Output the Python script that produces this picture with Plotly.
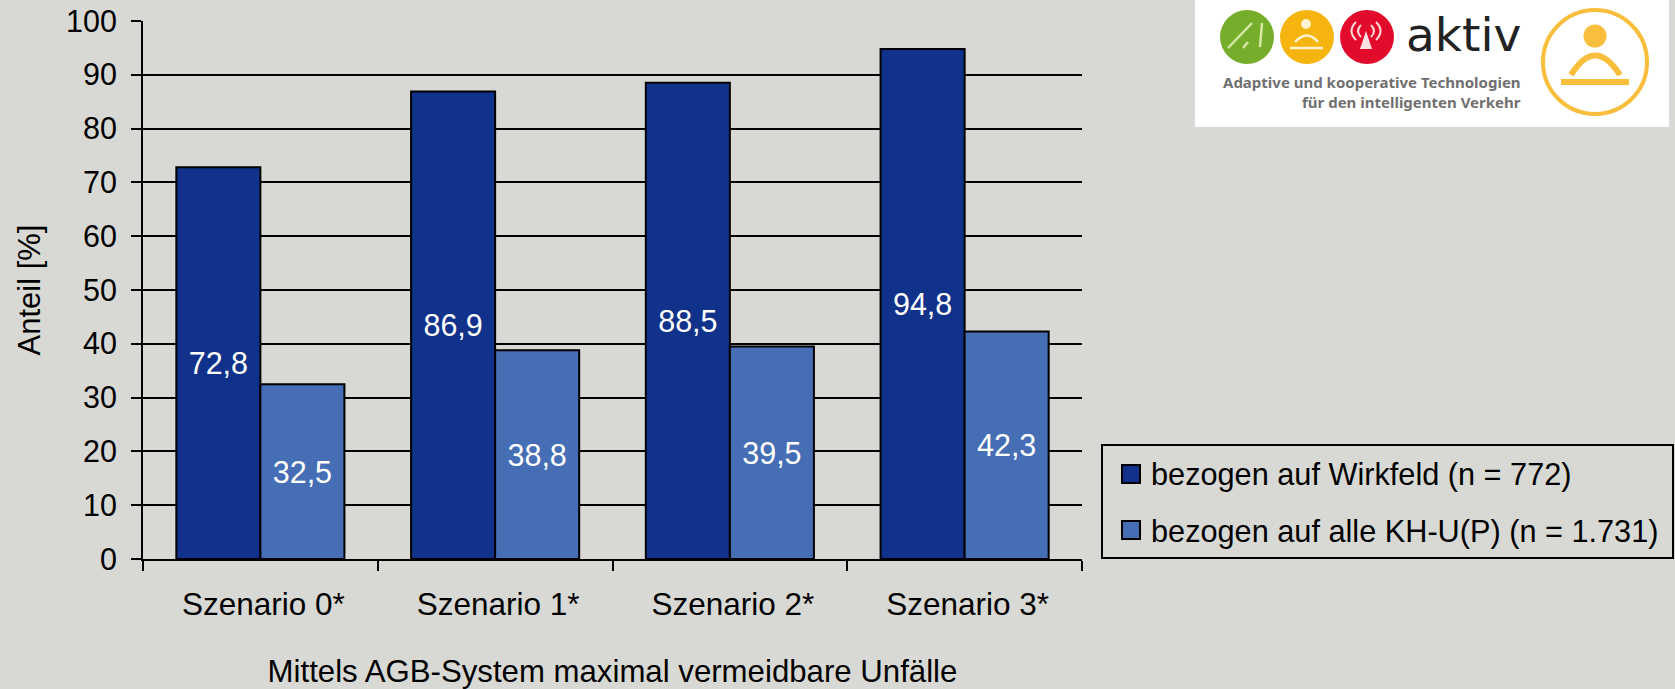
import plotly.graph_objects as go

# Chart data
categories = ["Szenario 0*", "Szenario 1*", "Szenario 2*", "Szenario 3*"]
wirkfeld = [72.8, 86.9, 88.5, 94.8]
alle_kh = [32.5, 38.8, 39.5, 42.3]
series_names = ["bezogen auf Wirkfeld (n = 772)", "bezogen auf alle KH-U(P) (n = 1.731)"]
y_ticks = list(range(0, 101, 10))

# Page and plot-area geometry in pixels
W, H = 1675, 689
L, R, T, B = 143, 1082, 21, 559

BG = "#D8D9D4"
DARK = "#10328A"
LIGHT = "#466EB4"
FONT = "Liberation Sans, Arial, sans-serif"
FS = 30.5


def px(x):
    return (x - L) / (R - L)


def py(y):
    return (B - y) / (B - T)


def path(points):
    return " ".join(
        f"{c}{px(x):.5f},{py(y):.5f}" for c, x, y in points
    )


def quad(x0, y0, xc, yc, x1, y1):
    return f"M{px(x0):.5f},{py(y0):.5f} Q{px(xc):.5f},{py(yc):.5f} {px(x1):.5f},{py(y1):.5f}"


def rect(x0, y0, x1, y1, fill, line=None, width=0):
    return dict(type="rect", xref="paper", yref="paper", x0=px(x0), x1=px(x1), y0=py(y0), y1=py(y1),
                fillcolor=fill, line=dict(color=line or fill, width=width))


def circle(cx, cy, r, fill, line=None, width=0):
    return dict(type="circle", xref="paper", yref="paper", x0=px(cx - r), x1=px(cx + r),
                y0=py(cy + r), y1=py(cy - r), fillcolor=fill,
                line=dict(color=line or fill, width=width))


def stroke(d, color, width):
    return dict(type="path", xref="paper", yref="paper", path=d,
                line=dict(color=color, width=width), fillcolor="rgba(0,0,0,0)")


def seg(x0, y0, x1, y1, color, width):
    return dict(type="line", xref="paper", yref="paper", x0=px(x0), x1=px(x1), y0=py(y0), y1=py(y1),
                line=dict(color=color, width=width))


fig = go.Figure()
for name, values, colour in [(series_names[0], wirkfeld, DARK), (series_names[1], alle_kh, LIGHT)]:
    fig.add_bar(
        x=categories, y=values, name=name, showlegend=False,
        marker=dict(color=colour, line=dict(color="black", width=2)),
        text=values, texttemplate="%{y:.1f}", textposition="inside",
        insidetextanchor="middle", textangle=0, constraintext="none",
        insidetextfont=dict(color="white", size=FS, family=FONT),
    )

GREEN, ORANGE, RED, AMBER = "#76AE2C", "#F6B40E", "#E30B2C", "#F8BE3C"
shapes = [
    # legend frame and swatches
    rect(1102, 445, 1673, 558, BG, "black", 2),
    rect(1122, 465, 1140, 483, DARK, "black", 2),
    rect(1122, 521, 1140, 539, LIGHT, "black", 2),
    # logo panel
    rect(1195, 0, 1669, 127, "white"),
    circle(1247, 37, 27, GREEN),
    circle(1307, 37, 27, ORANGE),
    circle(1367, 37, 27, RED),
    # road icon
    seg(1228, 48, 1252, 23, "#D5E8A5", 2.5),
    seg(1260, 47, 1262, 23, "#D5E8A5", 2.5),
    seg(1243, 48, 1248, 42, "#D5E8A5", 2.5),
    # driver icon, small
    circle(1306, 24, 5, "#FFF3CF"),
    stroke(quad(1295, 42, 1307, 29, 1318, 42), "#FFF3CF", 2.5),
    seg(1290, 48, 1323, 48, "#FFF3CF", 2.5),
    # antenna icon
    dict(type="path", xref="paper", yref="paper", fillcolor="#FFE3E3", line=dict(width=0),
         path=path([("M", 1366, 31), ("L", 1372, 49), ("L", 1360, 49)]) + " Z"),
    stroke(quad(1356, 22, 1347, 31, 1356, 40), "#FFD8D8", 2),
    stroke(quad(1361, 25, 1355, 31, 1361, 37), "#FFD8D8", 2),
    stroke(quad(1376, 22, 1385, 31, 1376, 40), "#FFD8D8", 2),
    stroke(quad(1371, 25, 1377, 31, 1371, 37), "#FFD8D8", 2),
    # driver icon, large
    circle(1595, 62, 52, "rgba(0,0,0,0)", AMBER, 4),
    circle(1595, 36, 11.5, AMBER),
    stroke(quad(1571, 75, 1595, 36, 1620, 75), AMBER, 6),
    seg(1561, 82, 1629, 82, AMBER, 6),
]


def label(text, x, y, size, colour="black", anchor="left", family=FONT, angle=0):
    return dict(text=text, x=px(x), y=py(y), xref="paper", yref="paper", xanchor=anchor, yanchor="middle",
                showarrow=False, textangle=angle, font=dict(size=size, color=colour, family=family))


annotations = [
    label(series_names[0], 1149, 475, 30.7),
    label(series_names[1], 1149, 531, 30.7),
    label("aktiv", 1523, 34, 47, "#222222", "right", "DejaVu Sans"),
    label("<b>Adaptive und kooperative Technologien</b>", 1523, 82, 15, "#707070", "right", "Noto Sans"),
    label("<b>für den intelligenten Verkehr</b>", 1523, 102, 15, "#707070", "right", "Noto Sans"),
]

fig.update_layout(
    width=W, height=H, autosize=False,
    margin=dict(l=L, r=W - R, t=T, b=H - B, pad=0, autoexpand=False),
    paper_bgcolor=BG, plot_bgcolor=BG,
    barmode="group", bargap=0.284, bargroupgap=0,
    separators=",.",
    font=dict(family=FONT, size=FS, color="black"),
    showlegend=False,
    shapes=shapes, annotations=annotations,
)
fig.update_xaxes(
    type="category", tickson="boundaries", ticks="outside", ticklen=10, tickwidth=2, tickcolor="black",
    showline=True, linecolor="black", linewidth=2, showgrid=False, zeroline=False,
    automargin=False, ticklabelstandoff=16, ticklabelshift=3,
    tickfont=dict(size=31.5),
    title=dict(text="Mittels AGB-System maximal vermeidbare Unfälle", font=dict(size=31.2), standoff=45),
)
fig.update_yaxes(
    range=[0, 100], tickmode="array", tickvals=y_ticks, ticktext=[str(v) for v in y_ticks],
    ticks="outside", ticklen=10, tickwidth=2, tickcolor="black",
    showline=True, linecolor="black", linewidth=2, showgrid=True, gridcolor="black", gridwidth=2,
    zeroline=False, automargin=False, ticklabelstandoff=8, tickfont=dict(size=FS),
    title=dict(text="Anteil [%]", font=dict(size=31), standoff=16),
)

fig.write_html("out.html")
